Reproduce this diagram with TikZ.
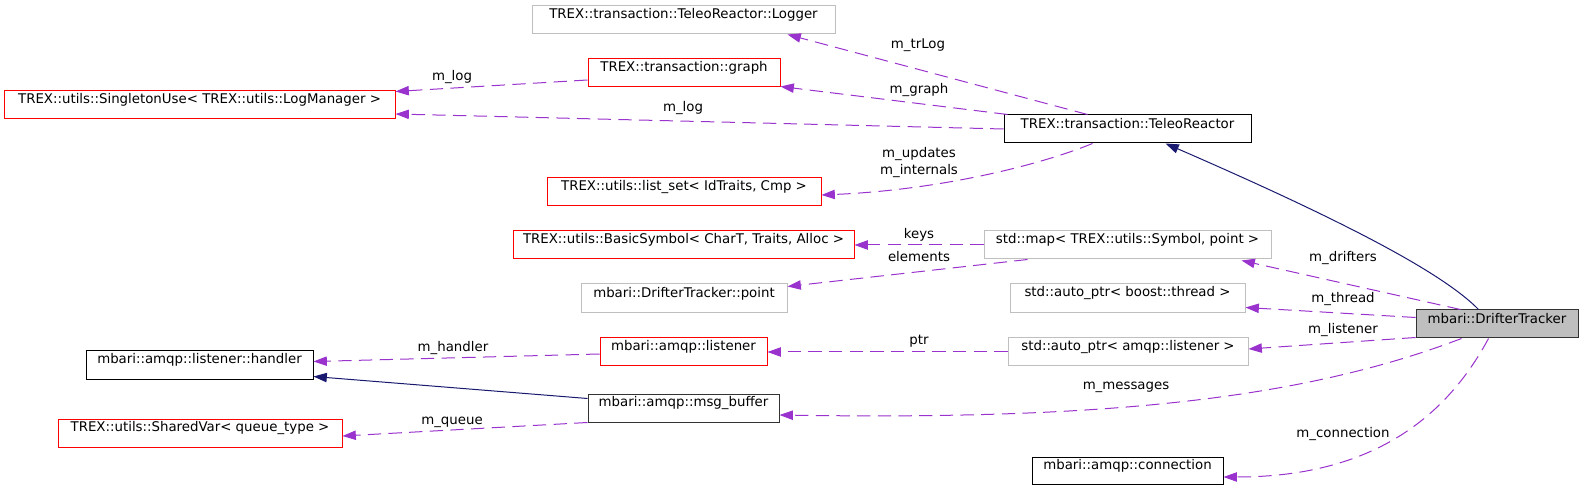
\documentclass[tikz,border=0pt]{standalone}
\usepackage{fontspec}
\setmainfont{DejaVu Sans}
\usetikzlibrary{arrows.meta,calc,fit}
\definecolor{orchid}{HTML}{9A32CD}
\definecolor{navyc}{HTML}{191970}
\definecolor{boxgray}{HTML}{BFBFBF}
\begin{document}
\begin{tikzpicture}[x=0.75pt,y=-0.75pt,
  box/.style={draw, inner sep=0pt, line width=0.75pt, font=\fontsize{10}{12}\selectfont},
  redbox/.style={box, draw=red},
  graybox/.style={box, draw=boxgray},
  blackbox/.style={box, draw=black},
  hlbox/.style={box, draw=black!80, fill=boxgray},
  member/.style={draw=orchid, line width=0.75pt, dash pattern=on 10pt off 5.5pt, -{Triangle[length=10pt,width=7pt]}},
  inherit/.style={draw=navyc, line width=0.75pt, -{Triangle[length=10pt,width=7pt]}},
  lbl/.style={font=\fontsize{10}{12.75}\selectfont, inner sep=0pt, align=center}]
\useasboundingbox (0,0) rectangle (1584,491);

% nodes
\node[graybox, fit={(532,6)(835,34)}] (logger) {TREX::transaction::TeleoReactor::Logger};
\node[redbox, fit={(588,59)(780,87)}] (graph) {TREX::transaction::graph};
\node[redbox, fit={(4,91)(395,119)}] (singleton) {TREX::utils::SingletonUse< TREX::utils::LogManager >};
\node[blackbox, fit={(1004,115)(1251,143)}] (teleo) {TREX::transaction::TeleoReactor};
\node[redbox, fit={(547,178)(821,206)}] (listset) {TREX::utils::list\_set< IdTraits, Cmp >};
\node[redbox, fit={(513,231)(854,259)}] (basicsym) {TREX::utils::BasicSymbol< CharT, Traits, Alloc >};
\node[graybox, fit={(984,231)(1271,259)}] (map) {std::map< TREX::utils::Symbol, point >};
\node[graybox, fit={(581,284)(787,313)}] (point) {mbari::DrifterTracker::point};
\node[graybox, fit={(1010,284)(1245,313)}] (thread) {std::auto\_ptr< boost::thread >};
\node[redbox, fit={(600,338)(767,366)}] (listener) {mbari::amqp::listener};
\node[graybox, fit={(1008,338)(1248,366)}] (aplistener) {std::auto\_ptr< amqp::listener >};
\node[blackbox, fit={(86,351)(313,379)}] (handler) {mbari::amqp::listener::handler};
\node[box, draw=black!80, fit={(588,394)(779,422)}] (msgbuf) {mbari::amqp::msg\_buffer};
\node[hlbox, fit={(1416,310)(1578,338)}] (drifter) {mbari::DrifterTracker};
\node[redbox, fit={(58,419)(342,447)}] (sharedvar) {TREX::utils::SharedVar< queue\_type >};
\node[blackbox, fit={(1032,457)(1223,484)}] (connection) {mbari::amqp::connection};

% connectors
\draw[member] ($(teleo.north west)+(84,0)$) -- ($(logger.south west)+(256,0)$);
\draw[member] ($(teleo.north west)+(4,0)$) -- ($(graph.south east)+(0,-1)$);
\draw[member] ($(graph.west)+(0,7)$) -- ($(singleton.north east)+(0,1)$);
\draw[member] (teleo.west) -- ($(singleton.east)+(0,9)$);
\draw[member] ($(teleo.south west)+(89,0)$) .. controls (1040,165) and (940,190) .. ($(listset.east)+(0,3)$);
\draw[inherit] ($(drifter.north west)+(63,0)$) .. controls (1440,270) and (1330,215) .. ($(teleo.south west)+(162,0)$);
\draw[member] (map.west) -- (basicsym.east);
\draw[member] ($(map.south west)+(44,0)$) -- ($(point.north east)+(0,3)$);
\draw[member] ($(drifter.north west)+(45,0)$) -- ($(map.south east)+(-30,1)$);
\draw[member] ($(drifter.north west)+(0,8)$) -- ($(thread.south east)+(0,-6)$);
\draw[member] ($(drifter.south west)+(0,-1)$) -- ($(aplistener.east)+(0,-3)$);
\draw[member] (aplistener.west) -- (listener.east);
\draw[member] ($(listener.west)+(0,2)$) -- ($(handler.north east)+(0,11)$);
\draw[inherit] ($(msgbuf.north west)+(0,5)$) -- ($(handler.south east)+(0,-3)$);
\draw[member] (msgbuf.south west) -- ($(sharedvar.east)+(0,3)$);
\draw[member] ($(drifter.south west)+(46,0)$) .. controls (1300,400) and (1100,420) .. ($(msgbuf.east)+(0,7)$);
\draw[member] ($(drifter.south west)+(73,0)$) .. controls (1450,410) and (1380,477) .. ($(connection.east)+(0,6.5)$);

% labels
\node[lbl] (l-trlog) at (918,45) {m\_trLog};
\node[lbl] (l-graph) at (919,90) {m\_graph};
\node[lbl] (l-log1) at (452,77) {m\_log};
\node[lbl] (l-log2) at (683,108) {m\_log};
\node[lbl] (l-upd) at (919,163) {m\_updates\\m\_internals};
\node[lbl] (l-keys) at (919,235) {keys};
\node[lbl] (l-elem) at (919,257) {elements};
\node[lbl] (l-drift) at (1343,258) {m\_drifters};
\node[lbl] (l-thread) at (1343,299) {m\_thread};
\node[lbl] (l-listener) at (1343,330) {m\_listener};
\node[lbl] (l-ptr) at (919,341) {ptr};
\node[lbl] (l-handler) at (453,348) {m\_handler};
\node[lbl] (l-queue) at (452,422) {m\_queue};
\node[lbl] (l-msg) at (1126,387) {m\_messages};
\node[lbl] (l-conn) at (1343,434) {m\_connection};
\end{tikzpicture}
\end{document}
